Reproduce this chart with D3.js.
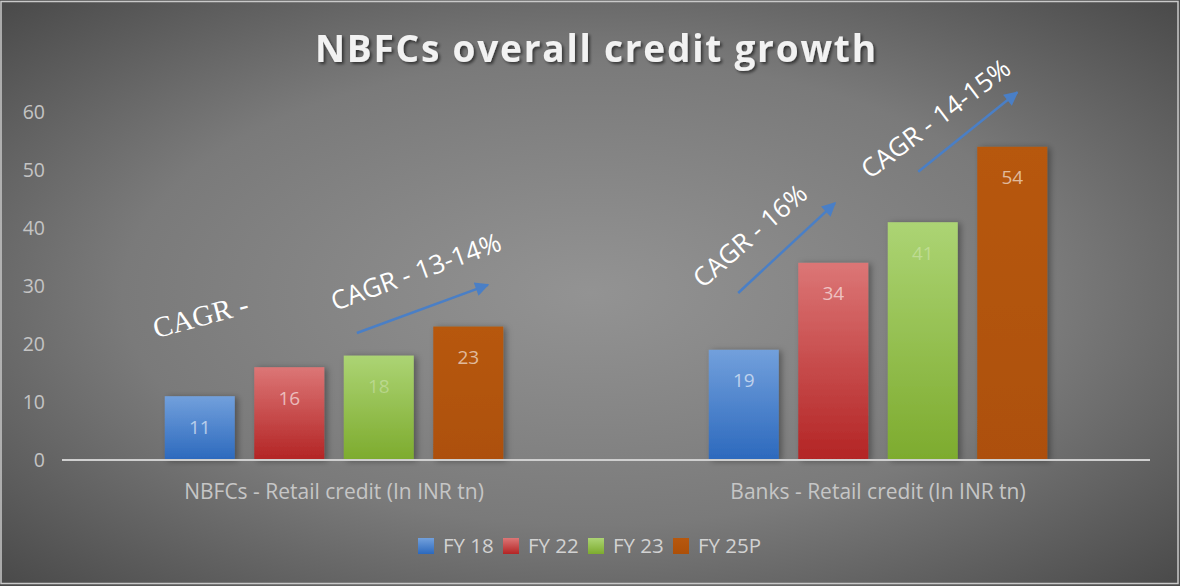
<!DOCTYPE html>
<html>
<head>
<meta charset="utf-8">
<script src="https://cdn.jsdelivr.net/npm/d3@7"></script>
<style>
  html, body { margin: 0; padding: 0; background: #5a5a5a; }
  svg { display: block; }
</style>
</head>
<body>
<svg id="chart" width="1180" height="586"></svg>
<script>
// ---- data ----
const categories = ["NBFCs - Retail credit (In INR tn)", "Banks - Retail credit (In INR tn)"];
const seriesNames = ["FY 18", "FY 22", "FY 23", "FY 25P"];
const nbfcValues = [11, 16, 18, 23];
const bankValues = [19, 34, 41, 54];
const yTicks = [0, 10, 20, 30, 40, 50, 60];
const titleText = "NBFCs overall credit growth";

// growth callouts: x in category-centre units (0 = first group, 1 = second), y in INR tn
const calloutTexts = ["CAGR -", "CAGR - 13-14%", "CAGR - 16%", "CAGR - 14-15%"];
const calloutAt = [[-0.327, 21.0], [0.002, 25.7], [0.678, 29.5], [0.985, 48.3]];
const calloutAngles = [-15, -20, -41, -37];
const arrowFrom = [[0.042, 21.9], [0.743, 28.8], [1.074, 49.7]];
const arrowTo = [[0.283, 30.2], [0.921, 44.3], [1.256, 63.4]];

const valuesByCategory = [nbfcValues, bankValues];

// ---- layout ----
const W = 1180, H = 586;
const plotLeft = 62, plotRight = 1150, plotTop = 112, plotBottom = 460;
const svg = d3.select("#chart");
const defs = svg.append("defs");

// background: soft radial grey
const bg = defs.append("radialGradient").attr("id", "bg")
  .attr("cx", "50%").attr("cy", "50%").attr("r", "72%");
bg.append("stop").attr("offset", "0%").attr("stop-color", "#939393");
bg.append("stop").attr("offset", "55%").attr("stop-color", "#7a7a7a");
bg.append("stop").attr("offset", "100%").attr("stop-color", "#474747");

svg.append("rect").attr("width", W).attr("height", H).attr("fill", "url(#bg)");
svg.append("rect").attr("x", 1).attr("y", 1.5).attr("width", W - 3).attr("height", H - 4)
  .attr("fill", "none").attr("stroke", "#c9c9c9").attr("stroke-width", 1.5);

// bar fills
const barColors = [
  ["#72a0dc", "#2c69bd"],
  ["#dc7676", "#b32424"],
  ["#acd474", "#7dab2e"],
  ["#b7580e", "#ad5008"]
];
barColors.forEach((c, i) => {
  const g = defs.append("linearGradient").attr("id", "bar" + i)
    .attr("x1", 0).attr("y1", 0).attr("x2", 0).attr("y2", 1);
  g.append("stop").attr("offset", "0%").attr("stop-color", c[0]);
  g.append("stop").attr("offset", "100%").attr("stop-color", c[1]);
});

const shadow = defs.append("filter").attr("id", "barShadow")
  .attr("x", "-20%").attr("y", "-10%").attr("width", "150%").attr("height", "130%");
shadow.append("feDropShadow").attr("dx", 3).attr("dy", 1).attr("stdDeviation", 3)
  .attr("flood-color", "#000").attr("flood-opacity", 0.35);

const titleShadow = defs.append("filter").attr("id", "titleShadow")
  .attr("x", "-5%").attr("y", "-30%").attr("width", "110%").attr("height", "160%");
titleShadow.append("feDropShadow").attr("dx", 2).attr("dy", 2).attr("stdDeviation", 1.5)
  .attr("flood-color", "#000").attr("flood-opacity", 0.55);

// ---- scales ----
const x0 = d3.scaleBand().domain(categories).range([plotLeft, plotRight]).padding(0);
const x1 = d3.scaleBand().domain(seriesNames).range([0, x0.bandwidth()])
  .paddingInner(0.218).paddingOuter(1.148);
const y = d3.scaleLinear().domain([0, 60]).range([plotBottom, plotTop]);
const xc = d3.scaleLinear().domain([0, 1])
  .range([x0(categories[0]) + x0.bandwidth() / 2, x0(categories[1]) + x0.bandwidth() / 2]);

// ---- title ----
svg.append("text")
  .attr("x", (315 + 876) / 2).attr("y", 62)
  .attr("text-anchor", "middle")
  .attr("font-family", "'Open Sans', sans-serif")
  .attr("font-weight", 700)
  .attr("font-size", 37)
  .attr("fill", "#f2f2f2")
  .attr("textLength", 561).attr("lengthAdjust", "spacing")
  .attr("filter", "url(#titleShadow)")
  .text(titleText);

// ---- y axis (labels only) ----
const yAxis = d3.axisLeft(y).tickValues(yTicks).tickSize(0).tickPadding(0);
const yG = svg.append("g").attr("transform", `translate(45,0)`).call(yAxis);
yG.select(".domain").remove();
yG.selectAll("text")
  .attr("font-family", "'Open Sans', sans-serif")
  .attr("font-size", 19.5)
  .attr("fill", "#c4c4c4");

// ---- bars ----
const groups = svg.append("g").selectAll("g")
  .data(categories)
  .join("g")
  .attr("transform", d => `translate(${x0(d)},0)`);

groups.selectAll("rect")
  .data((d, ci) => seriesNames.map((s, si) => ({ s, si, v: valuesByCategory[ci][si] })))
  .join("rect")
  .attr("x", d => x1(d.s))
  .attr("y", d => y(d.v))
  .attr("width", x1.bandwidth())
  .attr("height", d => y(0) - y(d.v))
  .attr("fill", d => `url(#bar${d.si})`)
  .attr("filter", "url(#barShadow)");

groups.selectAll("text.val")
  .data((d, ci) => seriesNames.map((s, si) => ({ s, si, v: valuesByCategory[ci][si] })))
  .join("text")
  .attr("class", "val")
  .attr("x", d => x1(d.s) + x1.bandwidth() / 2)
  .attr("y", d => y(d.v) + 31)
  .attr("dy", "0.35em")
  .attr("text-anchor", "middle")
  .attr("font-family", "'Open Sans', sans-serif")
  .attr("font-size", 19)
  .attr("fill", "#ffffff")
  .attr("fill-opacity", d => d.si === 2 ? 0.28 : 0.6)
  .text(d => d.v);

// ---- x axis ----
svg.append("line")
  .attr("x1", plotLeft).attr("x2", plotRight)
  .attr("y1", y(0)).attr("y2", y(0))
  .attr("stroke", "#cfcfcf").attr("stroke-width", 2);

const xAxis = d3.axisBottom(x0).tickSize(0).tickPadding(0);
const xG = svg.append("g").attr("transform", `translate(0,${y(0) + 32})`).call(xAxis);
xG.select(".domain").remove();
xG.selectAll("text")
  .attr("dy", "0.35em")
  .attr("font-family", "'Open Sans', sans-serif")
  .attr("font-size", 21)
  .attr("fill", "#c6c6c6");

// ---- growth arrows ----
defs.append("marker").attr("id", "arrowHead")
  .attr("viewBox", "0 0 10 10").attr("refX", 9).attr("refY", 5)
  .attr("markerUnits", "userSpaceOnUse")
  .attr("markerWidth", 16).attr("markerHeight", 14)
  .attr("orient", "auto")
  .append("path").attr("d", "M0,0 L10,5 L0,10 Z").attr("fill", "#4a7fc6");

svg.append("g").selectAll("line")
  .data(arrowFrom.map((f, i) => ({ f, t: arrowTo[i] })))
  .join("line")
  .attr("x1", d => xc(d.f[0])).attr("y1", d => y(d.f[1]))
  .attr("x2", d => xc(d.t[0])).attr("y2", d => y(d.t[1]))
  .attr("stroke", "#4a7fc6").attr("stroke-width", 2.5)
  .attr("marker-end", "url(#arrowHead)");

// ---- growth labels ----
svg.append("g").selectAll("text")
  .data(calloutTexts.map((t, i) => ({ t, p: calloutAt[i], a: calloutAngles[i], i })))
  .join("text")
  .attr("transform", d => `translate(${xc(d.p[0])},${y(d.p[1])}) rotate(${d.a})`)
  .attr("font-family", d => d.i === 0 ? "'Liberation Serif', 'Times New Roman', serif" : "'Open Sans', sans-serif")
  .attr("font-size", d => d.i === 0 ? 29 : 26)
  .attr("fill", "#ffffff")
  .text(d => d.t);

// ---- legend ----
const legendX = [418, 503, 588, 673];
const legend = svg.append("g").selectAll("g")
  .data(seriesNames)
  .join("g")
  .attr("transform", (d, i) => `translate(${legendX[i]},538)`);
legend.append("rect").attr("width", 16).attr("height", 16)
  .attr("fill", (d, i) => `url(#bar${i})`);
legend.append("text")
  .attr("x", 25).attr("y", 8).attr("dy", "0.36em")
  .attr("font-family", "'Open Sans', sans-serif")
  .attr("font-size", 20.5)
  .attr("fill", "#d2d2d2")
  .text(d => d);
</script>
</body>
</html>
